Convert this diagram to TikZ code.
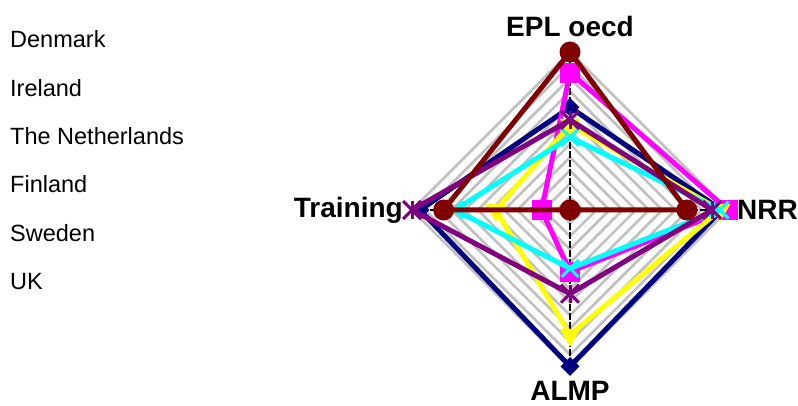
\documentclass[tikz,border=0pt]{standalone}
\usepackage{fontspec}
\setmainfont{Liberation Sans}
\usetikzlibrary{shapes.geometric}
\usetikzlibrary{shapes.misc}

\definecolor{denmarkBlue}{RGB}{0,0,128}
\definecolor{irelandPink}{RGB}{255,0,255}
\definecolor{hollandYellow}{RGB}{255,255,0}
\definecolor{finlandCyan}{RGB}{0,255,255}
\definecolor{swedenPurple}{RGB}{128,0,128}
\definecolor{ukRed}{RGB}{128,0,0}
\definecolor{gridGray}{RGB}{192,192,192}

\begin{document}
\begin{tikzpicture}[x = 1pt, y = -1pt]
	\tikzstyle{gridStyle} = [draw = gridGray, line width = 2.6pt]
	\tikzstyle{axisStyle} = [draw = black, line width = 2.4pt, dash pattern = on 7pt off 2pt]
	\tikzstyle{legendStyle} = [anchor = base west, inner sep = 0pt, font = \fontsize{23.5}{25}\selectfont]
	\tikzstyle{axisLabel} = [inner sep = 0pt, font = \fontsize{28}{30}\selectfont\bfseries]
	\tikzstyle{seriesLine} = [line width = 5pt, line join = round]
	\tikzstyle{denmarkMark} = [diamond, fill = denmarkBlue, minimum size = 19pt, inner sep = 0pt]
	\tikzstyle{irelandMark} = [rectangle, fill = irelandPink, minimum size = 20pt, inner sep = 0pt]
	\tikzstyle{hollandMark} = [regular polygon, regular polygon sides = 3, shape border rotate = 180, fill = hollandYellow, minimum size = 24pt, inner sep = 0pt]
	\tikzstyle{finlandMark} = [cross out, draw = finlandCyan, line width = 3pt, minimum size = 14pt, inner sep = 0pt]
	\tikzstyle{swedenMark} = [cross out, draw = swedenPurple, line width = 3pt, minimum size = 15pt, inner sep = 0pt]
	\tikzstyle{ukMark} = [circle, fill = ukRed, minimum size = 21pt, inner sep = 0pt]
	\useasboundingbox (0,0) rectangle (798,406);
	% legend
	\node[legendStyle] (lgDK) at (10,48) {Denmark};
	\node[legendStyle] (lgIE) at (10,97) {Ireland};
	\node[legendStyle] (lgNL) at (10,145) {The Netherlands};
	\node[legendStyle] (lgFI) at (10,193) {Finland};
	\node[legendStyle] (lgSE) at (10,242) {Sweden};
	\node[legendStyle] (lgUK) at (10,290) {UK};
	% axis labels
	\node[axisLabel, anchor = base] (lblEPL) at (570,37) {EPL oecd};
	\node[axisLabel, anchor = base east] (lblTR) at (403,218) {Training};
	\node[axisLabel, anchor = base west] (lblNRR) at (737,220) {NRR};
	\node[axisLabel, anchor = base] (lblALMP) at (570,400) {ALMP};
	\begin{scope}[shift = {(570,210)}]
		% grid
		\foreach \k in {1,...,12} {
			\pgfmathsetmacro{\r}{158*\k/12}
			\draw[gridStyle] (0,-\r) -- (\r,0) -- (0,\r) -- (-\r,0) -- cycle;
		}
		\coordinate (axTop) at (0,-158);
		\coordinate (axRight) at (158,0);
		\coordinate (axBottom) at (0,158);
		\coordinate (axLeft) at (-158,0);
		\draw[axisStyle] (axTop) -- (axBottom);
		\draw[axisStyle] (axLeft) -- (axRight);
		% Denmark
		\coordinate (dkE) at (0,{-158*0.65});
		\coordinate (dkN) at ({158*0.96},0);
		\coordinate (dkA) at (0,{158*0.99});
		\coordinate (dkT) at ({-158*0.95},0);
		\draw[seriesLine, denmarkBlue] (dkE) -- (dkN) -- (dkA) -- (dkT) -- cycle;
		\foreach \p in {E,N,A,T} \node[denmarkMark] (dk\p m) at (dk\p) {};
		% Ireland
		\coordinate (ieE) at (0,{-158*0.87});
		\coordinate (ieN) at ({158*1.0},0);
		\coordinate (ieA) at (0,{158*0.39});
		\coordinate (ieT) at ({-158*0.18},0);
		\draw[seriesLine, irelandPink] (ieE) -- (ieN) -- (ieA) -- (ieT) -- cycle;
		\foreach \p in {E,N,A,T} \node[irelandMark] (ie\p m) at (ie\p) {};
		% The Netherlands
		\coordinate (nlE) at (0,{-158*0.54});
		\coordinate (nlN) at ({158*0.95},0);
		\coordinate (nlA) at (0,{158*0.79});
		\coordinate (nlT) at ({-158*0.47},0);
		\draw[seriesLine, hollandYellow] (nlE) -- (nlN) -- (nlA) -- (nlT) -- cycle;
		\foreach \p in {E,N,A,T} \node[hollandMark] (nl\p m) at (nl\p) {};
		% Finland
		\coordinate (fiE) at (0,{-158*0.46});
		\coordinate (fiN) at ({158*0.95},0);
		\coordinate (fiA) at (0,{158*0.37});
		\coordinate (fiT) at ({-158*0.73},0);
		\draw[seriesLine, finlandCyan] (fiE) -- (fiN) -- (fiA) -- (fiT) -- cycle;
		\foreach \p in {E,N,A,T} \node[finlandMark] (fi\p m) at (fi\p) {};
		% Sweden
		\coordinate (seE) at (0,{-158*0.57});
		\coordinate (seN) at ({158*0.90},0);
		\coordinate (seA) at (0,{158*0.53});
		\coordinate (seT) at ({-158*1.0},0);
		\draw[seriesLine, swedenPurple] (seE) -- (seN) -- (seA) -- (seT) -- cycle;
		\foreach \p in {E,N,A,T} {
			\node[swedenMark] (se\p m) at (se\p) {};
			\draw[swedenPurple, line width = 3pt] (se\p m.north) -- (se\p m.south);
		}
		% UK
		\coordinate (ukE) at (0,{-158*1.0});
		\coordinate (ukN) at ({158*0.74},0);
		\coordinate (ukA) at (0,0);
		\coordinate (ukT) at ({-158*0.80},0);
		\draw[seriesLine, ukRed] (ukE) -- (ukN) -- (ukA) -- (ukT) -- cycle;
		\foreach \p in {E,N,A,T} \node[ukMark] (uk\p m) at (uk\p) {};
	\end{scope}
\end{tikzpicture}
\end{document}
